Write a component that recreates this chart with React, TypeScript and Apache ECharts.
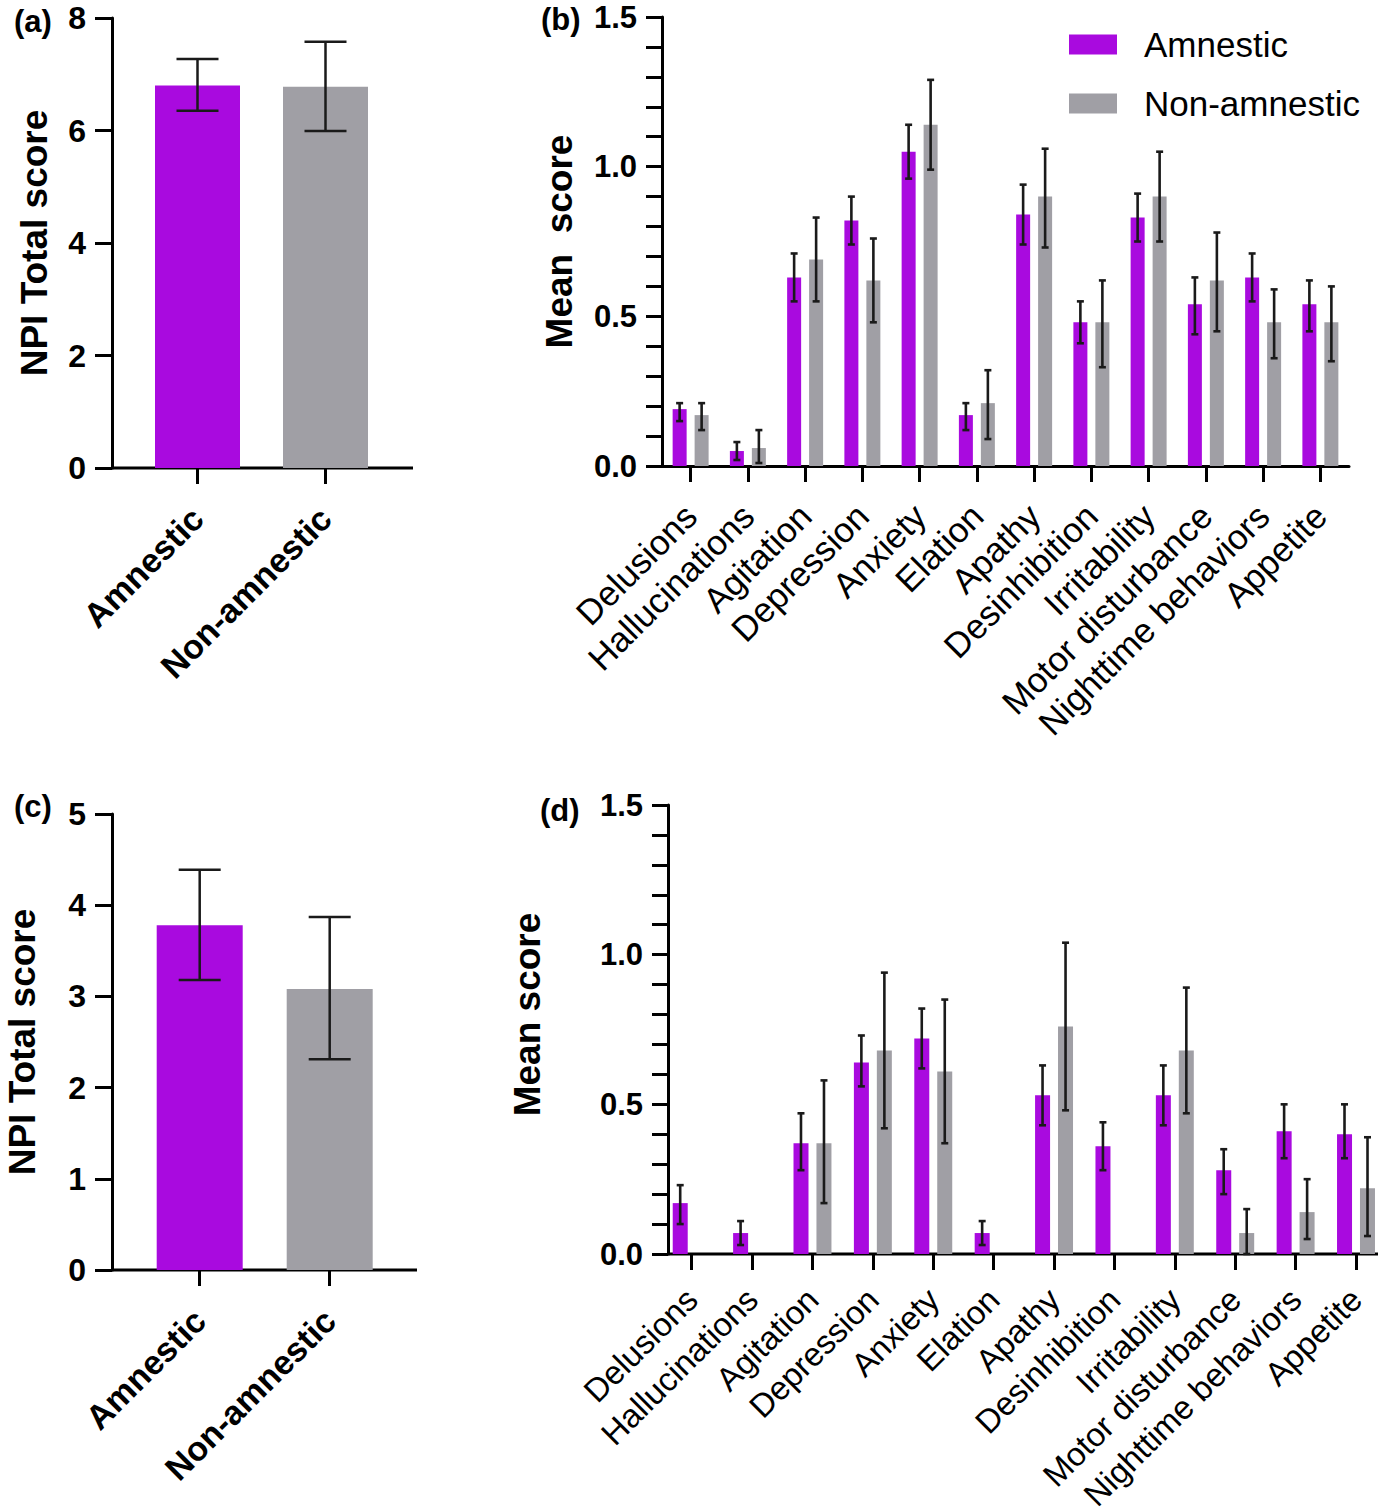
import React, { useEffect, useRef } from 'react';
import * as echarts from 'echarts';

// ---------- data ----------
const groups = ['Amnestic', 'Non-amnestic'];

// panel (a) NPI total
const totalAMean = [6.8, 6.78];
const totalAUpper = [7.27, 7.58];
const totalALower = [6.35, 5.99];

// panel (c) NPI total
const totalCMean = [3.78, 3.08];
const totalCUpper = [4.39, 3.87];
const totalCLower = [3.18, 2.31];

const symptoms = [
  'Delusions', 'Hallucinations', 'Agitation', 'Depression', 'Anxiety', 'Elation',
  'Apathy', 'Desinhibition', 'Irritability', 'Motor disturbance', 'Nighttime behaviors', 'Appetite',
];

// panel (b)
const bAmnMean = [0.19, 0.05, 0.63, 0.82, 1.05, 0.17, 0.84, 0.48, 0.83, 0.54, 0.63, 0.54];
const bAmnUpper = [0.21, 0.08, 0.71, 0.9, 1.14, 0.21, 0.94, 0.55, 0.91, 0.63, 0.71, 0.62];
const bAmnLower = [0.15, 0.02, 0.55, 0.74, 0.96, 0.12, 0.74, 0.41, 0.75, 0.44, 0.55, 0.45];
const bNonMean = [0.17, 0.06, 0.69, 0.62, 1.14, 0.21, 0.9, 0.48, 0.9, 0.62, 0.48, 0.48];
const bNonUpper = [0.21, 0.12, 0.83, 0.76, 1.29, 0.32, 1.06, 0.62, 1.05, 0.78, 0.59, 0.6];
const bNonLower = [0.12, 0.01, 0.55, 0.48, 0.99, 0.09, 0.73, 0.33, 0.75, 0.45, 0.36, 0.35];

// panel (d)
const dAmnMean = [0.17, 0.07, 0.37, 0.64, 0.72, 0.07, 0.53, 0.36, 0.53, 0.28, 0.41, 0.4];
const dAmnUpper = [0.23, 0.11, 0.47, 0.73, 0.82, 0.11, 0.63, 0.44, 0.63, 0.35, 0.5, 0.5];
const dAmnLower = [0.1, 0.03, 0.28, 0.56, 0.62, 0.03, 0.43, 0.28, 0.43, 0.2, 0.32, 0.32];
const dNonMean = [0, 0, 0.37, 0.68, 0.61, 0, 0.76, 0, 0.68, 0.07, 0.14, 0.22];
const dNonUpper = [null, null, 0.58, 0.94, 0.85, null, 1.04, null, 0.89, 0.15, 0.25, 0.39];
const dNonLower = [null, null, 0.17, 0.42, 0.37, null, 0.48, null, 0.47, 0.0, 0.05, 0.06];

// ---------- styles ----------
const PURPLE = '#A90ADF';
const GREY = '#A09FA5';
const ERR = '#1a1a1a';
const FONT = '"Liberation Sans", Arial, Helvetica, sans-serif';

function errData(lower: (number | null)[], upper: (number | null)[]) {
  const out: number[][] = [];
  for (let i = 0; i < lower.length; i++) {
    if (lower[i] == null || upper[i] == null) continue;
    out.push([i, lower[i] as number, upper[i] as number]);
  }
  return out;
}

function errRender(offset: number, capHalf: number, lw: number) {
  return (params: any, api: any) => {
    const idx = api.value(0);
    const pLo = api.coord([idx, api.value(1)]);
    const pHi = api.coord([idx, api.value(2)]);
    const x = pLo[0] + offset;
    const style = { stroke: ERR, lineWidth: lw };
    return {
      type: 'group',
      children: [
        { type: 'line', shape: { x1: x, y1: pHi[1], x2: x, y2: pLo[1] }, style },
        { type: 'line', shape: { x1: x - capHalf, y1: pHi[1], x2: x + capHalf, y2: pHi[1] }, style },
        { type: 'line', shape: { x1: x - capHalf, y1: pLo[1], x2: x + capHalf, y2: pLo[1] }, style },
      ],
    };
  };
}

const axisLineStyle = { color: '#000', width: 3 };

function totalYAxis(gridIndex: number, max: number, interval: number, offset: number, nameGap: number) {
  return {
    gridIndex, type: 'value', min: 0, max, interval, offset,
    axisLine: { show: true, lineStyle: axisLineStyle },
    axisTick: { show: true, length: 17, lineStyle: axisLineStyle },
    axisLabel: { fontSize: 32, fontWeight: 'bold', color: '#000', margin: 26, fontFamily: FONT, lineHeight: 28 },
    splitLine: { show: false },
    name: 'NPI Total score', nameLocation: 'middle', nameGap,
    nameTextStyle: { fontSize: 37, lineHeight: 36, fontWeight: 'bold', color: '#000', fontFamily: FONT },
  };
}

function meanYAxis(gridIndex: number, offset: number, name: string, nameGap: number, namePad: number[]) {
  return {
    gridIndex, type: 'value', min: 0, max: 1.5, interval: 0.5, offset,
    axisLine: { show: true, lineStyle: axisLineStyle },
    axisTick: { show: true, length: 16, lineStyle: axisLineStyle },
    minorTick: { show: true, splitNumber: 5, length: 16, lineStyle: axisLineStyle },
    axisLabel: {
      fontSize: 31, fontWeight: 'bold', color: '#000', margin: 25, fontFamily: FONT, lineHeight: 28,
      formatter: (v: number) => v.toFixed(1),
    },
    splitLine: { show: false },
    minorSplitLine: { show: false },
    name, nameLocation: 'middle', nameGap,
    nameTextStyle: { fontSize: 37, fontWeight: 'bold', color: '#000', fontFamily: FONT, padding: namePad },
  };
}

function totalXAxis(gridIndex: number) {
  return {
    gridIndex, type: 'category', data: groups,
    axisLine: { show: false },
    axisTick: { show: true, alignWithLabel: true, length: 16, lineStyle: axisLineStyle },
    axisLabel: { rotate: 45, interval: 0, fontSize: 34, fontWeight: 'bold', color: '#000', margin: 45, fontFamily: FONT },
  };
}

function symXAxis(gridIndex: number, showLine: boolean, fontSize: number, margin: number) {
  return {
    gridIndex, type: 'category', data: symptoms,
    axisLine: { show: showLine, lineStyle: axisLineStyle },
    axisTick: { show: true, alignWithLabel: true, length: 16, lineStyle: axisLineStyle },
    axisLabel: { rotate: 45, interval: 0, fontSize, color: '#000', margin, fontFamily: FONT },
  };
}

export default function App() {
  const ref = useRef<HTMLDivElement>(null);
  useEffect(() => {
    if (!ref.current) return;
    const chart = echarts.init(ref.current, null, { renderer: 'svg' });
    const totalColors = [PURPLE, GREY];
    const option: any = {
      animation: false,
      backgroundColor: '#fff',
      grid: [
        { left: 133.5, top: 18, width: 256, height: 450, outerBoundsMode: 'none', containLabel: false },
        { left: 662, top: 17, width: 687, height: 449, outerBoundsMode: 'none', containLabel: false },
        { left: 134.7, top: 814, width: 260, height: 456, outerBoundsMode: 'none', containLabel: false },
        { left: 661.5, top: 805, width: 724.7, height: 449, outerBoundsMode: 'none', containLabel: false },
      ],
      xAxis: [totalXAxis(0), symXAxis(1, true, 35, 44), totalXAxis(2), symXAxis(3, false, 33, 40)],
      yAxis: [
        totalYAxis(0, 8, 2, 21.5, 60),
        meanYAxis(1, 0, 'Mean  score', 84, [0, 0, 0, 0]),
        totalYAxis(2, 5, 1, 22.7, 72),
        meanYAxis(3, -6.5, 'Mean score', 122, [0, 0, 0, 30]),
      ],
      legend: {
        orient: 'vertical', left: 1064, top: 22, itemWidth: 48, itemHeight: 20, itemGap: 24,
        icon: 'rect', data: ['Amnestic', 'Non-amnestic'],
        textStyle: { fontSize: 35, color: '#000', fontFamily: FONT, padding: [0, 0, 0, 22] },
      },
      graphic: [
        { type: 'text', left: 14, top: 6, style: { text: '(a)', fontSize: 31, fontWeight: 'bold', fontFamily: FONT, fill: '#000' } },
        { type: 'text', left: 541, top: 4, style: { text: '(b)', fontSize: 31, fontWeight: 'bold', fontFamily: FONT, fill: '#000' } },
        { type: 'text', left: 14, top: 791, style: { text: '(c)', fontSize: 31, fontWeight: 'bold', fontFamily: FONT, fill: '#000' } },
        { type: 'text', left: 540, top: 795, style: { text: '(d)', fontSize: 31, fontWeight: 'bold', fontFamily: FONT, fill: '#000' } },
        { type: 'line', shape: { x1: 112, y1: 468, x2: 413, y2: 468 }, style: { stroke: '#000', lineWidth: 3 } },
        { type: 'line', shape: { x1: 112, y1: 1270, x2: 417, y2: 1270 }, style: { stroke: '#000', lineWidth: 3 } },
        { type: 'line', shape: { x1: 668, y1: 1254, x2: 1378, y2: 1254 }, style: { stroke: '#000', lineWidth: 3 } },
      ],
      series: [
        // panel a
        {
          name: 'NPI total (a)', type: 'bar', xAxisIndex: 0, yAxisIndex: 0, data: totalAMean, barWidth: 85,
          itemStyle: { color: (p: any) => totalColors[p.dataIndex] },
        },
        {
          name: 'NPI total (a) error', type: 'custom', xAxisIndex: 0, yAxisIndex: 0, z: 5,
          data: errData(totalALower, totalAUpper), renderItem: errRender(0, 21, 2.5),
        },
        // panel b
        {
          name: 'Amnestic', type: 'bar', xAxisIndex: 1, yAxisIndex: 1, data: bAmnMean,
          barWidth: 14, barGap: '57%', itemStyle: { color: PURPLE },
        },
        {
          name: 'Non-amnestic', type: 'bar', xAxisIndex: 1, yAxisIndex: 1, data: bNonMean,
          barWidth: 14, barGap: '57%', itemStyle: { color: GREY },
        },
        {
          name: 'Amnestic error (b)', type: 'custom', xAxisIndex: 1, yAxisIndex: 1, z: 5,
          data: errData(bAmnLower, bAmnUpper), renderItem: errRender(-11, 3.5, 2.6),
        },
        {
          name: 'Non-amnestic error (b)', type: 'custom', xAxisIndex: 1, yAxisIndex: 1, z: 5,
          data: errData(bNonLower, bNonUpper), renderItem: errRender(11, 3.5, 2.6),
        },
        // panel c
        {
          name: 'NPI total (c)', type: 'bar', xAxisIndex: 2, yAxisIndex: 2, data: totalCMean, barWidth: 86,
          itemStyle: { color: (p: any) => totalColors[p.dataIndex] },
        },
        {
          name: 'NPI total (c) error', type: 'custom', xAxisIndex: 2, yAxisIndex: 2, z: 5,
          data: errData(totalCLower, totalCUpper), renderItem: errRender(0, 21, 2.5),
        },
        // panel d
        {
          name: 'Amnestic', type: 'bar', xAxisIndex: 3, yAxisIndex: 3, data: dAmnMean,
          barWidth: 15, barGap: '53%', itemStyle: { color: PURPLE },
        },
        {
          name: 'Non-amnestic', type: 'bar', xAxisIndex: 3, yAxisIndex: 3, data: dNonMean,
          barWidth: 15, barGap: '53%', itemStyle: { color: GREY },
        },
        {
          name: 'Amnestic error (d)', type: 'custom', xAxisIndex: 3, yAxisIndex: 3, z: 5,
          data: errData(dAmnLower, dAmnUpper), renderItem: errRender(-11.5, 3.5, 2.6),
        },
        {
          name: 'Non-amnestic error (d)', type: 'custom', xAxisIndex: 3, yAxisIndex: 3, z: 5,
          data: errData(dNonLower, dNonUpper), renderItem: errRender(11.5, 3.5, 2.6),
        },
      ],
    };
    chart.setOption(option);
    return () => chart.dispose();
  }, []);
  return (
    <div
      ref={ref}
      style={{ position: 'absolute', left: 0, top: 0, width: 1386, height: 1512, background: '#fff' }}
    />
  );
}
